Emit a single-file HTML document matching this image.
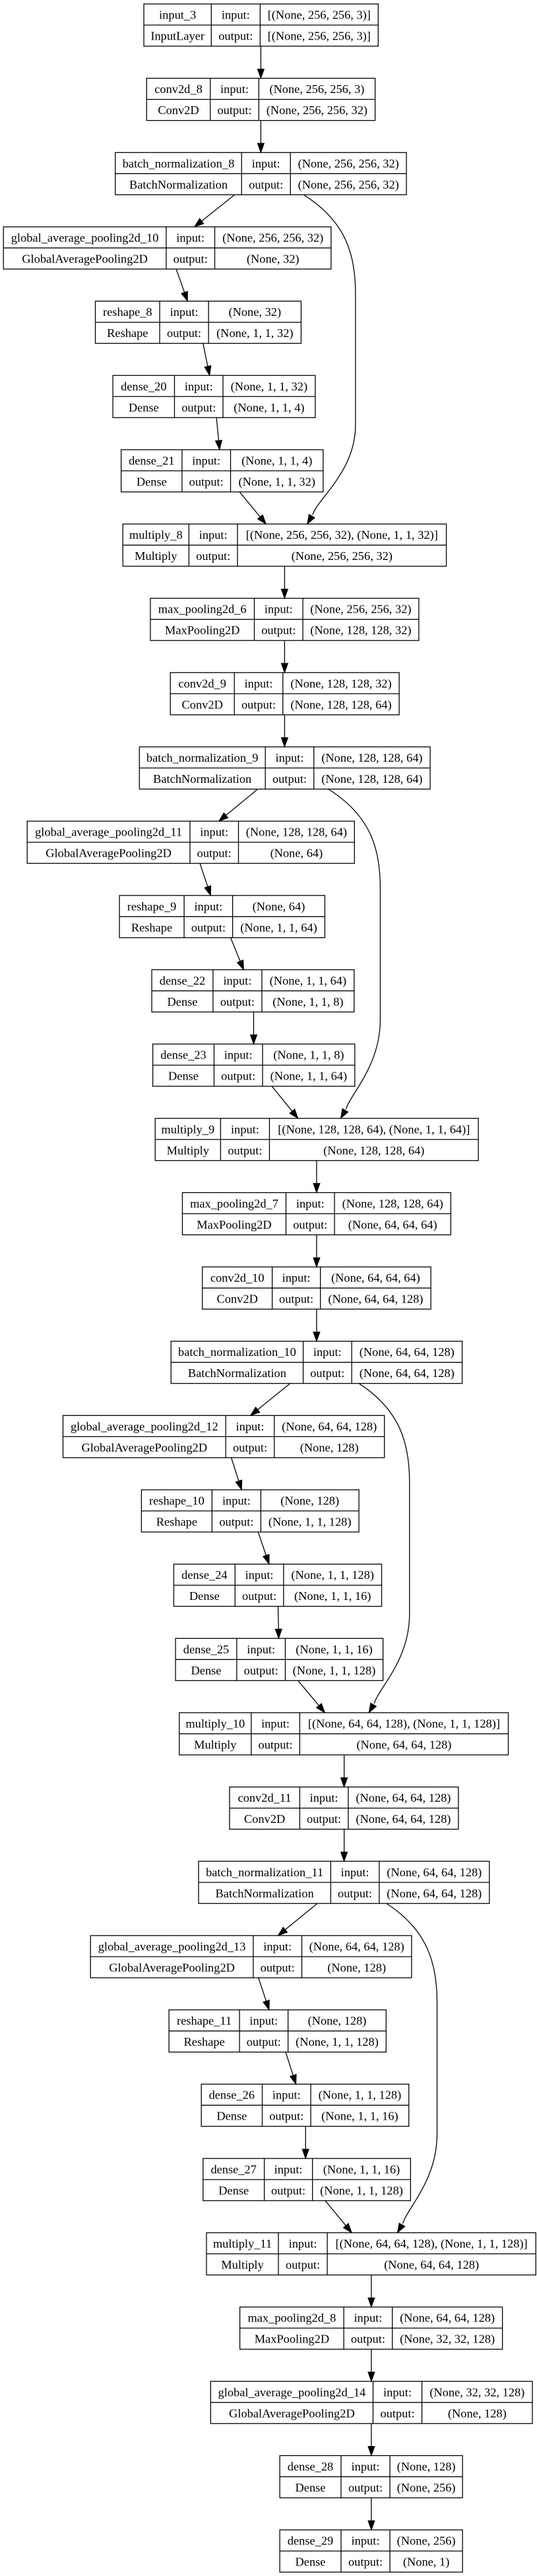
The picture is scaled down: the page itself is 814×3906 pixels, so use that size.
<!DOCTYPE html>
<html><head><meta charset="utf-8"><style>
html,body{margin:0;padding:0;background:#fff;}
svg{display:block;}
text{font-family:"Liberation Serif",serif;font-size:18.4px;fill:#000;}
</style></head><body>
<svg id="s" width="814" height="3906" viewBox="0 0 814 3906" xmlns="http://www.w3.org/2000/svg"></svg>
<script>
var K=1.917, P=112.65, T0=6, H=64;
function Y(i){return T0+P*i;}
function X(z){return z/K;}
var N=[
["input_3","InputLayer","[(None, 256, 256, 3)]","[(None, 256, 256, 3)]",418,614,756,1099],
["conv2d_8","Conv2D","(None, 256, 256, 3)","(None, 256, 256, 32)",426,611,752,1090],
["batch_normalization_8","BatchNormalization","(None, 256, 256, 32)","(None, 256, 256, 32)",335,702,844,1181],
["global_average_pooling2d_10","GlobalAveragePooling2D","(None, 256, 256, 32)","(None, 32)",10,483,624,962],
["reshape_8","Reshape","(None, 32)","(None, 1, 1, 32)",277,464,606,875],
["dense_20","Dense","(None, 1, 1, 32)","(None, 1, 1, 4)",328,507,648,916],
["dense_21","Dense","(None, 1, 1, 4)","(None, 1, 1, 32)",352,529,670,939],
["multiply_8","Multiply","[(None, 256, 256, 32), (None, 1, 1, 32)]","(None, 256, 256, 32)",357,549,690,1297],
["max_pooling2d_6","MaxPooling2D","(None, 256, 256, 32)","(None, 128, 128, 32)",437,739,880,1217],
["conv2d_9","Conv2D","(None, 128, 128, 32)","(None, 128, 128, 64)",495,681,822,1160],
["batch_normalization_9","BatchNormalization","(None, 128, 128, 64)","(None, 128, 128, 64)",405,771,912,1250],
["global_average_pooling2d_11","GlobalAveragePooling2D","(None, 128, 128, 64)","(None, 64)",79,552,693,1030],
["reshape_9","Reshape","(None, 64)","(None, 1, 1, 64)",347,535,676,944],
["dense_22","Dense","(None, 1, 1, 64)","(None, 1, 1, 8)",441,619,761,1029],
["dense_23","Dense","(None, 1, 1, 8)","(None, 1, 1, 64)",444,622,763,1031],
["multiply_9","Multiply","[(None, 128, 128, 64), (None, 1, 1, 64)]","(None, 128, 128, 64)",451,641,783,1390],
["max_pooling2d_7","MaxPooling2D","(None, 128, 128, 64)","(None, 64, 64, 64)",530,831,972,1310],
["conv2d_10","Conv2D","(None, 64, 64, 64)","(None, 64, 64, 128)",588,791,931,1252],
["batch_normalization_10","BatchNormalization","(None, 64, 64, 128)","(None, 64, 64, 128)",497,881,1022,1343],
["global_average_pooling2d_12","GlobalAveragePooling2D","(None, 64, 64, 128)","(None, 128)",183,656,797,1117],
["reshape_10","Reshape","(None, 128)","(None, 1, 1, 128)",411,616,758,1043],
["dense_24","Dense","(None, 1, 1, 128)","(None, 1, 1, 16)",505,683,824,1109],
["dense_25","Dense","(None, 1, 1, 16)","(None, 1, 1, 128)",510,688,829,1113],
["multiply_10","Multiply","[(None, 64, 64, 128), (None, 1, 1, 128)]","(None, 64, 64, 128)",521,730,871,1477],
["conv2d_11","Conv2D","(None, 64, 64, 128)","(None, 64, 64, 128)",667,871,1012,1332],
["batch_normalization_11","BatchNormalization","(None, 64, 64, 128)","(None, 64, 64, 128)",577,961,1102,1422],
["global_average_pooling2d_13","GlobalAveragePooling2D","(None, 64, 64, 128)","(None, 128)",263,736,877,1196],
["reshape_11","Reshape","(None, 128)","(None, 1, 1, 128)",491,696,837,1122],
["dense_26","Dense","(None, 1, 1, 128)","(None, 1, 1, 16)",585,762,903,1188],
["dense_27","Dense","(None, 1, 1, 16)","(None, 1, 1, 128)",590,768,908,1193],
["multiply_11","Multiply","[(None, 64, 64, 128), (None, 1, 1, 128)]","(None, 64, 64, 128)",600,809,951,1557],
["max_pooling2d_8","MaxPooling2D","(None, 64, 64, 128)","(None, 32, 32, 128)",697,999,1140,1460],
["global_average_pooling2d_14","GlobalAveragePooling2D","(None, 32, 32, 128)","(None, 128)",612,1084,1226,1547],
["dense_28","Dense","(None, 128)","(None, 256)",813,991,1133,1344],
["dense_29","Dense","(None, 256)","(None, 1)",813,991,1133,1344]
];
var E=[[758,0,758,1],[758,1,758,2],[682,2,565,3],[512,3,545,4],[590,4,609,5],[629,5,638,6],[696,6,773,7],[827,7,827,8],[827,8,827,9],[827,9,827,10],[749,10,636,11],[581,11,612,12],[670,12,708,13],[737,13,737,14],[790,14,866,15],[920,15,920,16],[920,16,920,17],[920,17,920,18],[843,18,728,19],[672,19,702,20],[750,20,782,21],[808,21,810,22],[866,22,944,23],[1000,23,1000,24],[1000,24,1000,25],[922,25,808,26],[751,26,782,27],[830,27,860,28],[888,28,888,29],[945,29,1022,30],[1079,30,1079,31],[1079,31,1079,32],[1079,32,1079,33],[1079,33,1079,34]];
var C=[[882,2,1033,893,7],[954,10,1105,990,15],[1043,18,1190,1072,23],[1123,25,1270,1155,30]];
var o='';
function esc(s){return s.replace(/&/g,'&amp;').replace(/</g,'&lt;');}
function head(x1,y1,x2,y2){
  var dx=x2-x1,dy=y2-y1,l=Math.sqrt(dx*dx+dy*dy);dx/=l;dy/=l;
  var L=14,W=5,bx=x2-dx*L,by=y2-dy*L;
  return '<polygon points="'+x2.toFixed(1)+','+y2.toFixed(1)+' '+(bx-dy*W).toFixed(1)+','+(by+dx*W).toFixed(1)+' '+(bx+dy*W).toFixed(1)+','+(by-dx*W).toFixed(1)+'" fill="#000" stroke="#000" stroke-width="1"/>';
}
N.forEach(function(n,i){
  var y=Y(i),L=X(n[4]),d1=X(n[5]),d2=X(n[6]),R=X(n[7]);
  o+='<rect x="'+L+'" y="'+y+'" width="'+(R-L)+'" height="'+H+'" fill="#fff" stroke="#000" stroke-width="1.3"/>';
  o+='<line x1="'+L+'" y1="'+(y+32)+'" x2="'+R+'" y2="'+(y+32)+'" stroke="#000" stroke-width="1.3"/>';
  o+='<line x1="'+d1+'" y1="'+y+'" x2="'+d1+'" y2="'+(y+H)+'" stroke="#000" stroke-width="1.3"/>';
  o+='<line x1="'+d2+'" y1="'+y+'" x2="'+d2+'" y2="'+(y+H)+'" stroke="#000" stroke-width="1.3"/>';
  function t(x,yy,s){o+='<text x="'+x.toFixed(1)+'" y="'+yy.toFixed(1)+'" text-anchor="middle">'+esc(s)+'</text>';}
  t((L+d1)/2,y+22.5,n[0]);t((d1+d2)/2,y+22.5,'input:');t((d2+R)/2,y+22.5,n[2]);
  t((L+d1)/2,y+54.5,n[1]);t((d1+d2)/2,y+54.5,'output:');t((d2+R)/2,y+54.5,n[3]);
});
E.forEach(function(e){
  var x1=X(e[0]),y1=Y(e[1])+H,x2=X(e[2]),y2=Y(e[3]);
  var dx=x2-x1,dy=y2-y1,l=Math.sqrt(dx*dx+dy*dy);
  o+='<line x1="'+x1+'" y1="'+y1+'" x2="'+(x2-dx/l*13)+'" y2="'+(y2-dy/l*13)+'" stroke="#000" stroke-width="1.3"/>';
  o+=head(x1,y1,x2,y2);
});
C.forEach(function(c){
  var sx=X(c[0]),y0=Y(c[1])+H,vx=X(c[2]),ex=X(c[3]),y1=Y(c[4]);
  var px=ex+8,py=y1-14;
  var d='M'+sx+','+y0+' C'+(vx-15)+','+(y0+40)+' '+vx+','+(y0+90)+' '+vx+','+(y0+150)+' L'+vx+','+(y1-150)+' C'+vx+','+(y1-80)+' '+(px+8)+','+(py-25)+' '+px+','+py;
  o+='<path d="'+d+'" fill="none" stroke="#000" stroke-width="1.3"/>';
  o+=head(ex+16,y1-28,ex,y1);
});
document.getElementById('s').innerHTML=o;
</script>
</body></html>
